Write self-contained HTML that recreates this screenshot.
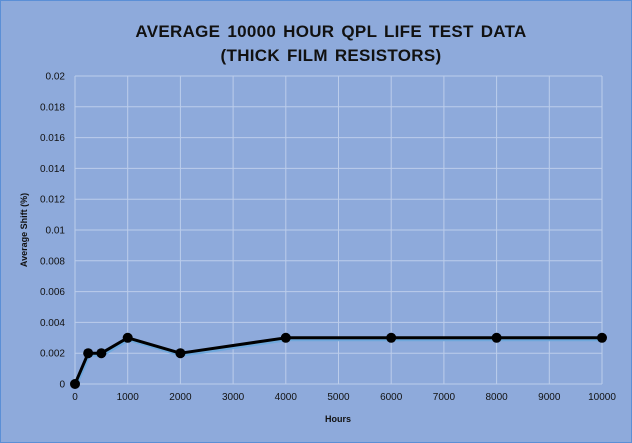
<!DOCTYPE html>
<html><head><meta charset="utf-8"><style>
html,body{margin:0;padding:0;}
body{width:632px;height:443px;overflow:hidden;background:#8eaadb;font-family:"Liberation Sans",sans-serif;}
svg{display:block;}
</style></head><body>
<svg id="chart" width="632" height="443" viewBox="0 0 632 443">
<rect x="0.5" y="0.5" width="631" height="442" fill="#8eaadb" stroke="#5b8fd6" stroke-width="1"/>
<text x="331" y="37" text-anchor="middle" font-size="17" font-weight="bold" fill="#111" letter-spacing="0.3" word-spacing="2">AVERAGE 10000 HOUR QPL LIFE TEST DATA</text>
<text x="331" y="61" text-anchor="middle" font-size="17" font-weight="bold" fill="#111" letter-spacing="0.3" word-spacing="2">(THICK FILM RESISTORS)</text>
<g id="grid"></g><g id="axes"></g><g id="series"></g>
<text x="27" y="230" transform="rotate(-90 27 230)" text-anchor="middle" font-size="9" font-weight="bold" fill="#111">Average Shift (%)</text>
<text x="338" y="422" text-anchor="middle" font-size="9" font-weight="bold" fill="#111">Hours</text>
</svg>
<script>
const hours=[0,250,500,1000,2000,4000,6000,8000,10000];
const shift=[0,0.002,0.002,0.003,0.002,0.003,0.003,0.003,0.003];
const xTicks=[0,1000,2000,3000,4000,5000,6000,7000,8000,9000,10000];
const yTicks=[0,0.002,0.004,0.006,0.008,0.01,0.012,0.014,0.016,0.018,0.02];
const yLabels=["0","0.002","0.004","0.006","0.008","0.01","0.012","0.014","0.016","0.018","0.02"];
const NS="http://www.w3.org/2000/svg";
const X0=75,X1=602,Y0=384,Y1=76;
const sx=v=>X0+(v-0)/(10000-0)*(X1-X0);
const sy=v=>Y0-(v-0)/(0.02-0)*(Y0-Y1);
function mk(t,a,p){const e=document.createElementNS(NS,t);for(const k in a)e.setAttribute(k,a[k]);p.appendChild(e);return e;}
const grid=document.getElementById('grid'),axes=document.getElementById('axes'),ser=document.getElementById('series');
yTicks.forEach((v,i)=>{
 const l=mk('line',{x1:X0,x2:X1,y1:sy(v),y2:sy(v),stroke:'#bccdeb','stroke-width':1},grid);
 
 
 const t=mk('text',{x:X0-10,y:sy(v)+3.5,'text-anchor':'end','font-size':10,fill:'#111'},axes);
 t.textContent=yLabels[i];
 
 
});
xTicks.forEach(v=>{
 const l=mk('line',{x1:sx(v),x2:sx(v),y1:Y1,y2:Y0,stroke:'#bccdeb','stroke-width':1},grid);
 
 
 const t=mk('text',{x:sx(v),y:Y0+16,'text-anchor':'middle','font-size':10,fill:'#111'},axes);
 t.textContent=String(v);
 
 
});
const pts=hours.map((h,i)=>sx(h)+','+sy(shift[i])).join(' ');
const shadowPts=hours.map((h,i)=>(sx(h)+1)+','+(sy(shift[i])+2)).join(' ');
const sh=mk('polyline',{points:shadowPts,fill:'none',stroke:'#6fa8dc','stroke-width':3},ser);


const pl=mk('polyline',{points:pts,fill:'none',stroke:'#000','stroke-width':3,'stroke-linejoin':'round'},ser);


hours.forEach((h,i)=>{
 const c=mk('circle',{cx:sx(h),cy:sy(shift[i]),r:5,fill:'#000'},ser);
 
 
});
</script>
</body></html>
